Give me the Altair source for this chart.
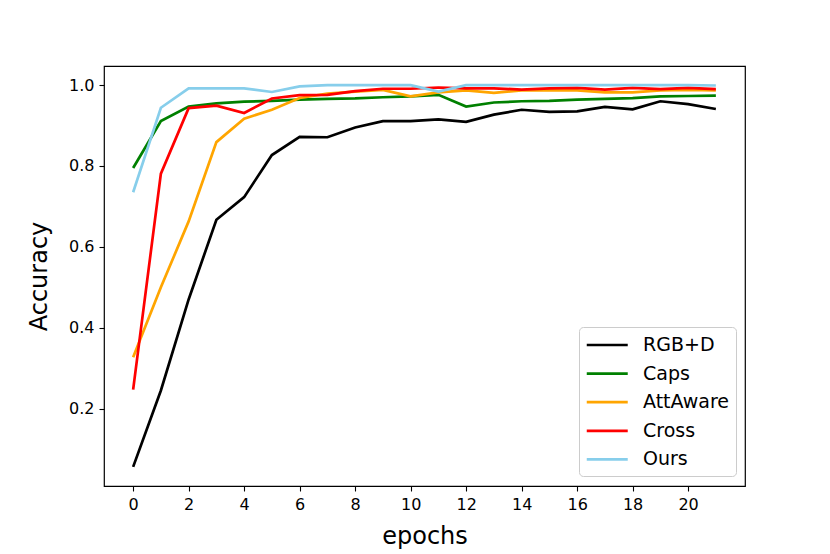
import altair as alt
import pandas as pd

epochs = list(range(22))
series_names = ["RGB+D", "Caps", "AttAware", "Cross", "Ours"]
series_colors = ["#000000", "#008000", "#FFA500", "#FF0000", "#87CEEB"]

rgbd = [0.056, 0.245, 0.47, 0.667, 0.723, 0.827, 0.872, 0.871, 0.895, 0.911, 0.911,
        0.915, 0.909, 0.927, 0.939, 0.934, 0.935, 0.946, 0.940, 0.960, 0.953, 0.941]
caps = [0.795, 0.911, 0.947, 0.955, 0.959, 0.961, 0.964, 0.966, 0.967, 0.970, 0.972,
        0.976, 0.947, 0.957, 0.960, 0.961, 0.964, 0.966, 0.968, 0.972, 0.973, 0.974]
attaware = [0.327, 0.50, 0.663, 0.859, 0.917, 0.939, 0.968, 0.979, 0.984, 0.988, 0.972,
            0.982, 0.987, 0.981, 0.987, 0.987, 0.987, 0.982, 0.982, 0.987, 0.988, 0.987]
cross = [0.247, 0.781, 0.943, 0.949, 0.931, 0.967, 0.975, 0.976, 0.985, 0.991, 0.991,
         0.994, 0.992, 0.992, 0.989, 0.992, 0.993, 0.989, 0.993, 0.990, 0.993, 0.990]
ours = [0.735, 0.944, 0.992, 0.992, 0.992, 0.983, 0.997, 1.0, 1.0, 1.0, 1.0,
        0.984, 1.0, 1.0, 1.0, 1.0, 1.0, 1.0, 1.0, 1.0, 1.0, 0.999]

values = [rgbd, caps, attaware, cross, ours]
rows = []
for name, vals in zip(series_names, values):
    for e, v in zip(epochs, vals):
        rows.append({"epoch": e, "acc": v, "method": name})
df = pd.DataFrame(rows)

FONT = "DejaVu Sans"

chart = alt.Chart(df).mark_line(strokeWidth=2.7).encode(
    x=alt.X("epoch:Q",
            scale=alt.Scale(domain=[-1.05, 22.05], nice=False, zero=False),
            axis=alt.Axis(values=list(range(0, 21, 2)), title="epochs", format="d")),
    y=alt.Y("acc:Q",
            scale=alt.Scale(domain=[0.0088, 1.0472], nice=False, zero=False),
            axis=alt.Axis(values=[0.2, 0.4, 0.6, 0.8, 1.0], title="Accuracy", format=".1f")),
    color=alt.Color("method:N",
                    scale=alt.Scale(domain=series_names, range=series_colors),
                    legend=alt.Legend(title=None, orient="none", legendX=475, legendY=261)),
).properties(
    width=641, height=420,
    autosize=alt.AutoSizeParams(type="none"),
    padding={"left": 96, "top": 58, "right": 77, "bottom": 66},
).configure_view(
    stroke="#000000", strokeWidth=1.2,
).configure_axis(
    grid=False, domain=False,
    ticks=True, tickColor="#000000", tickSize=5, tickWidth=1.1,
    labelFont=FONT, labelFontSize=16, labelColor="#000000", labelPadding=5,
    titleFont=FONT, titleFontSize=24, titleColor="#000000", titleFontWeight="normal",
).configure_axisX(
    titlePadding=12,
).configure_axisY(
    titlePadding=17,
).configure_legend(
    symbolType="M-1,0L3,0", symbolSize=420, symbolStrokeWidth=2.7,
    symbolFillColor="transparent",
    labelFont=FONT, labelFontSize=19, labelColor="#000000", labelOffset=34,
    strokeColor="#cccccc", fillColor="#ffffff", cornerRadius=4, padding=6,
    rowPadding=6.6,
)

chart.save("out.html", embed_options={"renderer": "svg", "actions": False})
